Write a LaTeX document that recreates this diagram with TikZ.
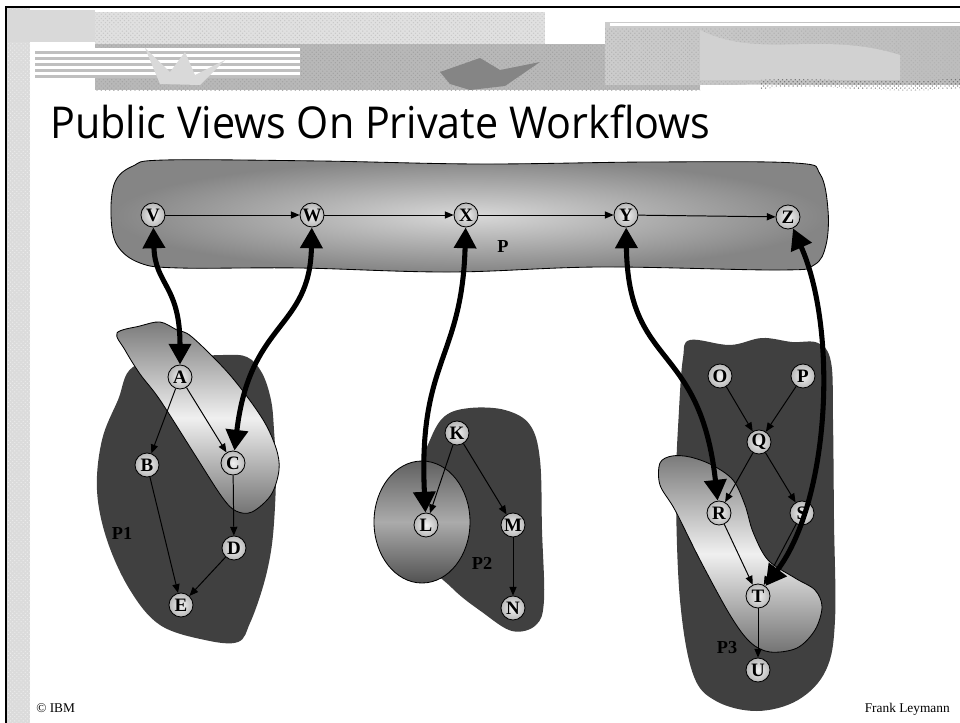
\documentclass[tikz,border=0pt]{standalone}
\usepackage{fontspec}
\setmainfont{Liberation Serif}
\newfontfamily\titlefont{Open Sans}
\usetikzlibrary{arrows.meta,patterns}
\definecolor{blobdark}{gray}{0.25}
\definecolor{strip}{gray}{0.86}
\tikzset{
  wnode/.style={circle, draw=black, line width=0.6pt, minimum size=0.6cm, inner sep=0pt,
    inner color=white!95!black, outer color=black!28,
    font=\fontsize{13.5}{14}\selectfont\bfseries},
  plabel/.style={font=\fontsize{13}{14}\selectfont\bfseries, inner sep=0pt},
  thin edge/.style={line width=0.7pt, -{Triangle[length=0.22cm,width=0.18cm]}},
  thick conn/.style={line width=3.6pt, {Triangle[length=0.52cm,width=0.54cm]}-{Triangle[length=0.52cm,width=0.54cm]}},
  lightshape/.style={draw=black, line width=0.6pt, top color=black!52, bottom color=black!55, middle color=black!6},
  foot/.style={inner sep=0pt, font=\fontsize{9.5}{10}\selectfont},
}
\begin{document}
\begin{tikzpicture}[x=0.025cm,y=-0.025cm]
\useasboundingbox (0,0) rectangle (960,723);
\fill[white] (0,0) rectangle (960,723);
% left marble strip
\fill[strip] (6,7) rectangle (30,723);
\fill[pattern=crosshatch dots, pattern color=black!8] (6,7) rectangle (30,723);
% banner
\fill[black!15] (8,10) rectangle (95,42);
\fill[black!12] (95,12) rectangle (545,44);
\fill[pattern=crosshatch dots, pattern color=black!22] (95,12) rectangle (545,44);
\fill[black!28] (95,44) rectangle (700,90);
\fill[pattern=crosshatch dots, pattern color=black!36] (95,44) rectangle (700,90);
\shade[left color=black!20, right color=black!26] (605,22) rectangle (960,84);
\fill[pattern=crosshatch dots, pattern color=black!30] (605,28) rectangle (960,84);
\fill[white] (610,23) rectangle (960,25.5);
\foreach \yy in {48,54,60,66,72} {
  \fill[white] (35,\yy) rectangle (300,\yy+3);
  \fill[black!25] (35,\yy+3) rectangle (300,\yy+6);}
\fill[white!85!black] (145,48) -- (170,72) -- (185,52) -- (195,75) -- (225,60) -- (200,85) -- (160,84) -- cycle;
\fill[black!48] (440,72) -- (480,58) -- (500,70) -- (540,62) -- (505,86) -- (470,90) -- (450,84) -- cycle;
\fill[black!18] (700,30) .. controls (760,60) and (820,30) .. (900,55) -- (900,80) -- (700,80) -- cycle;
\fill[white] (720,86) .. controls (800,80) and (880,96) .. (960,88) -- (960,96) -- (720,96) -- cycle;
\fill[pattern=crosshatch dots, pattern color=black!55] (760,80) .. controls (820,76) and (880,86) .. (960,78) -- (960,88) .. controls (880,96) and (800,80) .. (760,90) -- cycle;
% frame
\draw[line width=1.8pt] (6,723) -- (6,7) -- (960,7);
% title
\node[anchor=base west, inner sep=0pt] (title) at (50,138)
  {\resizebox{16.5cm}{0.84cm}{\titlefont Public Views On Private Workflows}};
% footer
\node[foot, anchor=base west] (ibm) at (36,712) {© IBM};
\node[foot, anchor=base east] (fl) at (950,712) {Frank Leymann};
% bar P
\shade[draw=black, line width=0.6pt, inner color=black!15, outer color=black!48]
  plot[smooth cycle, tension=0.6] coordinates {(111,215) (115,182) (133,166) (165,160) (320,161) (480,164) (650,162) (795,163) (820,174) (828,210) (826,245) (814,265) (780,270) (600,267) (450,272) (300,268) (180,268) (140,263) (117,245)};
% P1 blob
\fill[blobdark] plot[smooth cycle, tension=0.6] coordinates {(133,367) (180,358) (223,355) (247,357) (262,373) (271,400) (274,430) (276,473) (274,523) (270,557) (262,590) (250,623) (238,642) (205,640) (160,625) (130,590) (107,540) (97,490) (102,440) (118,400)};
% P2 blob
\fill[blobdark] plot[smooth cycle, tension=0.6] coordinates {(430,440) (445,416) (470,408) (505,410) (530,425) (540,460) (542,530) (544,600) (536,625) (512,631) (482,612) (452,588) (422,552) (418,480)};
% P3 blob
\fill[blobdark] plot[smooth cycle, tension=0.6] coordinates {(690,340) (730,345) (762,338) (792,342) (818,343) (831,362) (833,420) (834,520) (835,620) (826,670) (798,700) (757,711) (716,701) (693,674) (680,600) (676,490) (679,410) (683,358)};
% light shapes
\shade[lightshape] plot[smooth cycle, tension=0.55] coordinates {(117,333) (140,326) (160,322) (177,330) (192,337) (230,375) (262,418) (276,448) (279,470) (271,495) (252,512) (236,511) (222,497) (195,455) (160,400) (140,374) (125,350)};
\shade[draw=black, line width=0.6pt, top color=black!62, bottom color=black!68, middle color=black!33]
  (422,522) ellipse[x radius=48, y radius=61];
\shade[lightshape] plot[smooth cycle, tension=0.55] coordinates {(660,463) (672,456) (690,457) (712,465) (733,480) (745,505) (753,532) (768,560) (795,578) (815,590) (822,607) (815,630) (797,648) (770,652) (750,642) (730,615) (700,560) (675,510) (660,485)};
% nodes
\node[wnode] (V) at (153,215) {V};
\node[wnode] (W) at (312,215) {W};
\node[wnode] (X) at (466,215) {X};
\node[wnode] (Y) at (626,215) {Y};
\node[wnode] (Z) at (788,217) {Z};
\node[wnode] (A) at (180,377) {A};
\node[wnode] (B) at (147,465) {B};
\node[wnode] (C) at (233,463) {C};
\node[wnode] (D) at (234,548) {D};
\node[wnode] (E) at (181,605) {E};
\node[wnode] (K) at (457,433) {K};
\node[wnode] (L) at (426,525) {L};
\node[wnode] (M) at (513,525) {M};
\node[wnode] (N) at (513,608) {N};
\node[wnode] (O) at (720,376) {O};
\node[wnode] (Pn) at (803,376) {P};
\node[wnode] (Q) at (759,442) {Q};
\node[wnode] (R) at (719,513) {R};
\node[wnode] (S) at (802,513) {S};
\node[wnode] (T) at (758,596) {T};
\node[wnode] (U) at (758,670) {U};
% labels
\node[plabel] (lP) at (503,247) {P};
\node[plabel] (lP1) at (122,533) {P1};
\node[plabel] (lP2) at (482,563) {P2};
\node[plabel] (lP3) at (727,648) {P3};
% thin edges
\draw[thin edge] (V) -- (W);
\draw[thin edge] (W) -- (X);
\draw[thin edge] (X) -- (Y);
\draw[thin edge] (Y) -- (Z);
\draw[thin edge] (A) -- (B);
\draw[thin edge] (A) -- (C);
\draw[thin edge] (B) -- (E);
\draw[thin edge] (C) -- (D);
\draw[thin edge] (D) -- (E);
\draw[thin edge] (K) -- (L);
\draw[thin edge] (K) -- (M);
\draw[thin edge] (M) -- (N);
\draw[thin edge] (O) -- (Q);
\draw[thin edge] (Pn) -- (Q);
\draw[thin edge] (Q) -- (R);
\draw[thin edge] (Q) -- (S);
\draw[thin edge] (R) -- (T);
\draw[thin edge] (S) -- (T);
\draw[thin edge] (T) -- (U);
% thick connectors
\draw[thick conn] (V) .. controls (155,285) and (180,285) .. (A);
\draw[thick conn] (W) .. controls (310,330) and (250,320) .. (C);
\draw[thick conn] (X) .. controls (462,360) and (418,360) .. (L);
\draw[thick conn] (Y) .. controls (628,370) and (700,340) .. (R);
\draw[thick conn] (Z) .. controls (838,330) and (830,500) .. (T);
\end{tikzpicture}
\end{document}
